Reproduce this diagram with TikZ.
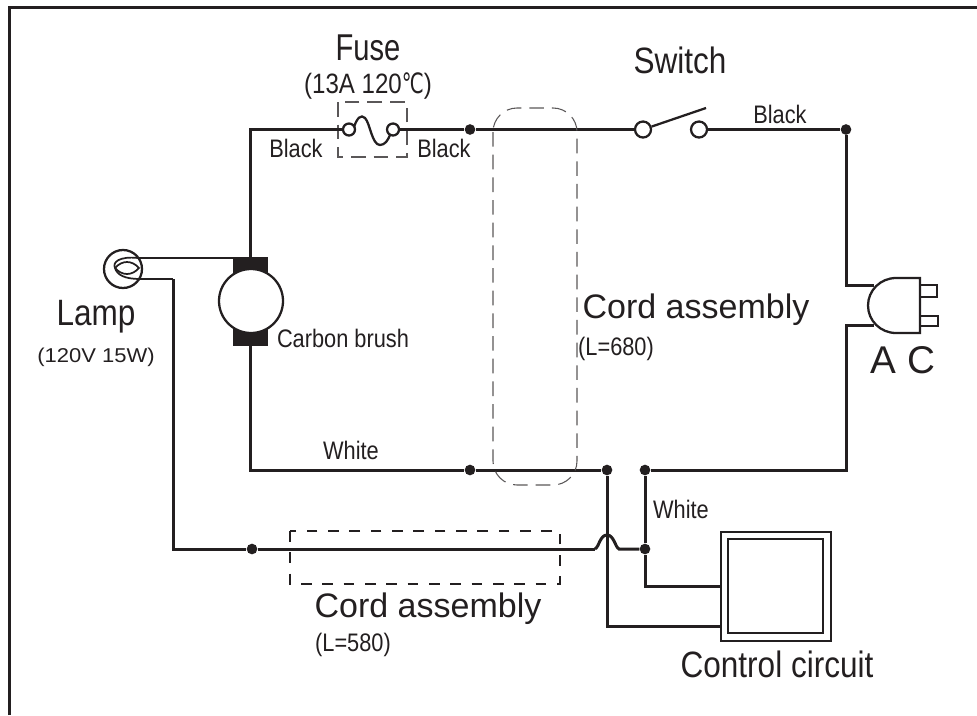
\documentclass[tikz,border=0pt]{standalone}
\usepackage{fontspec}
\setmainfont{Liberation Sans}
\newfontfamily\narrowfont[FakeStretch=0.86]{Liberation Sans}
\newfontfamily\fusefont[FakeStretch=0.78]{Liberation Sans}
\newfontfamily\widefont[FakeStretch=1.1]{Liberation Sans}
\newfontfamily\degreefont[FakeStretch=0.7]{DejaVu Sans}
\definecolor{inkblack}{RGB}{35,31,32}
\tikzset{
  wire/.style={draw=inkblack,line width=2.25pt},
  thinwire/.style={draw=inkblack,line width=1.7pt},
  junction/.style={circle,fill=inkblack,inner sep=0pt,minimum size=8pt},
  terminal/.style={circle,draw=inkblack,fill=white,line width=1.7pt,inner sep=0pt,minimum size=#1},
  brush/.style={rectangle,fill=inkblack,inner sep=0pt,minimum width=26.25pt,minimum height=13.5pt},
  thindash/.style={draw=inkblack!75,line width=0.8pt,dash pattern=on 11pt off 6pt},
  bigtext/.style={anchor=base,text=inkblack,font=\narrowfont\fontsize{27.5}{30}\selectfont},
  smalltext/.style={anchor=base,text=inkblack,font=\narrowfont\fontsize{19}{21}\selectfont}
}
\begin{document}
\begin{tikzpicture}[x=0.75pt,y=0.75pt,yscale=-1,xscale=1]
\useasboundingbox (0,0) rectangle (977,715);

%Frame
\draw [wire,line cap=butt] (9,715) -- (9,7.5) -- (977,7.5) ;

%Junctions
\node [junction] (dotblack) at (470,129.5) {};
\node [junction] (dotac) at (846,129.5) {};
\node [junction] (dotwhite) at (470,470) {};
\node [junction] (dotctrl) at (607,470) {};
\node [junction] (dotacw) at (645,470) {};
\node [junction] (dotlamp) at (252,549) {};
\node [junction] (dotjump) at (645,549) {};

%Corners
\coordinate (cornertl) at (250.5,129.5);
\coordinate (cornerbl) at (250.5,470);
\coordinate (cornerlamp) at (173,549);
\coordinate (lampout) at (173,279);
\coordinate (plugtop) at (846,285);
\coordinate (plugbot) at (846,325);
\coordinate (plugtopin) at (874,285);
\coordinate (plugbotin) at (874,325);
\coordinate (cornerac) at (846,470);
\coordinate (ctrlupper) at (645,586);
\coordinate (ctrllower) at (607,626);
\coordinate (jumpin) at (595,549);
\coordinate (jumpout) at (619,549);
\coordinate (jumptop) at (607,535);

%Fuse
\node [terminal=9pt] (fusel) at (349,129.5) {};
\node [terminal=9pt] (fuser) at (393,129.5) {};
\draw [thinwire] (354,127) .. controls (357,118) and (361,114) .. (365,118) .. controls (370,123) and (372,145) .. (380,145) .. controls (385,145) and (388,140) .. (390,135) ;
%Fuse box
\draw [thindash] (338,102) rectangle (407,157) ;

%Switch
\node [terminal=12pt] (switchl) at (643,129.5) {};
\node [terminal=12pt] (switchr) at (699,129.5) {};
\coordinate (bladeend) at (706,108);
\draw [thinwire] (switchl) -- (bladeend) ;

%Motor
\node [brush] (brushtop) at (250.5,266) {};
\node [brush] (brushbot) at (250.5,337) {};
\node [circle,draw=inkblack,fill=white,line width=1.7pt,inner sep=0pt,minimum size=48pt] (motor) at (251,301) {};

%Lamp
\node [circle,draw=inkblack,line width=1.7pt,inner sep=0pt,minimum size=28.5pt] (lamp) at (123,269) {};
\draw [draw=inkblack,line width=1.3pt] (115,268) .. controls (122,260) and (132,260) .. (139,268) .. controls (132,276) and (122,276) .. (115,268) ;
\draw [draw=inkblack,line width=1.3pt] (138,258) .. controls (120,256) and (112,262) .. (115,268) .. controls (117,275) and (125,279) .. (140,279) ;

%Straight Lines
\draw [wire] (fuser) -- (dotblack) -- (switchl) ;
\draw [wire] (switchr) -- (dotac) -- (plugtop) -- (plugtopin) ;
\draw [wire] (fusel) -- (cornertl) -- (brushtop) ;
\draw [wire] (brushbot) -- (cornerbl) -- (dotwhite) -- (dotctrl) ;
\draw [wire] (plugbotin) -- (plugbot) -- (cornerac) -- (dotacw) ;
\draw [wire] (dotacw) -- (dotjump) -- (ctrlupper) -- (ctrlupper -| 721,0) ;
\draw [wire] (dotctrl) -- (ctrllower) -- (ctrllower -| 721,0) ;
\draw [wire] (lampout) -- (cornerlamp) -- (dotlamp) -- (jumpin) ;
\draw [wire] (jumpin) .. controls (599,547) and (600,535) .. (jumptop) .. controls (614,535) and (615,547) .. (jumpout) -- (dotjump) ;
\draw [thinwire] (138,258) -- (brushtop.west |- 0,258) ;
\draw [thinwire] (140,279) -- (lampout) ;

%Plug
\draw [thinwire,fill=white] (920,278) -- (896,278) arc (270:90:28 and 27.5) -- (920,333) -- cycle ;
\draw [thinwire] (920,285) -| (937,297) -- (920,297) ;
\draw [thinwire] (920,316) -| (938,326) -- (920,326) ;

%Control box
\draw [thinwire] (721,532) rectangle (831,641) ;
\draw [thinwire] (728,539) rectangle (823,633) ;

%Cord assembly boxes
\draw [thindash,rounded corners=18pt] (493,108) rectangle (577,485) ;
\draw [draw=inkblack,line width=1.7pt,dash pattern=on 8pt off 8pt] (290,531) rectangle (560,584) ;

% Text Node
\node [bigtext,font=\fusefont\fontsize{28}{30}\selectfont] (fuselabel) at (368,60) {Fuse};
% Text Node
\node [smalltext,font=\narrowfont\fontsize{21}{23}\selectfont] (fuserating) at (368,93) {(13A 120{\degreefont ℃})};
% Text Node
\node [smalltext] (blackl) at (296,157) {Black};
% Text Node
\node [smalltext] (blackr) at (444,157) {Black};
% Text Node
\node [bigtext] (switchlabel) at (680,73) {Switch};
% Text Node
\node [smalltext] (blacktop) at (780,123) {Black};
% Text Node
\node [bigtext] (lamplabel) at (96,325) {Lamp};
% Text Node
\node [anchor=base,text=inkblack,font=\widefont\fontsize{15}{17}\selectfont] (lamprating) at (96,362) {(120V 15W)};
% Text Node
\node [smalltext] (brushlabel) at (343,347) {Carbon brush};
% Text Node
\node [anchor=base,text=inkblack,font=\fontsize{25.5}{27}\selectfont] (cordright) at (696,318) {Cord assembly};
% Text Node
\node [smalltext] (lengthright) at (616,355) {(L=680)};
% Text Node
\node [anchor=base,text=inkblack,font=\fontsize{29}{31}\selectfont] (aclabel) at (903,373) {A C};
% Text Node
\node [smalltext] (whitel) at (351,459) {White};
% Text Node
\node [smalltext] (whiter) at (681,518) {White};
% Text Node
\node [anchor=base,text=inkblack,font=\fontsize{25.5}{27}\selectfont] (cordlow) at (428,617) {Cord assembly};
% Text Node
\node [smalltext] (lengthlow) at (353,651) {(L=580)};
% Text Node
\node [bigtext] (ctrllabel) at (777,677) {Control circuit};

\end{tikzpicture}
\end{document}
